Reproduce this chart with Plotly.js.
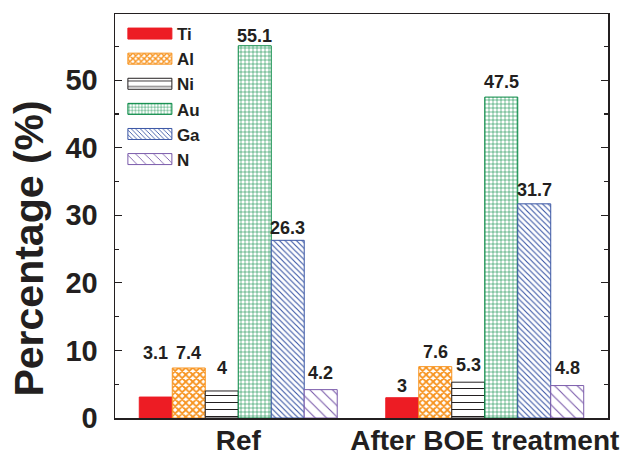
<!DOCTYPE html>
<html>
<head>
<meta charset="utf-8">
<script src="https://cdn.plot.ly/plotly-3.0.1.min.js"></script>
<style>
  html, body { margin: 0; padding: 0; background: #fff; }
  #chart { width: 639px; height: 457px; }
</style>
</head>
<body>
<div id="chart"></div>
<script>
// Sample groups and element composition (%)
const groups = ['Ref', 'After BOE treatment'];
const elements = ['Ti', 'Al', 'Ni', 'Au', 'Ga', 'N'];
const ti = [3.1, 3];
const al = [7.4, 7.6];
const ni = [4, 5.3];
const au = [55.1, 47.5];
const ga = [26.3, 31.7];
const nn = [4.2, 4.8];
const yTicks = [0, 10, 20, 30, 40, 50];
const yTitle = 'Percentage (%)';

const series = [ti, al, ni, au, ga, nn];

// Visual style per element
const styles = [
  { color: '#ed1c24', shape: '',   size: 8, solidity: 0.3 },
  { color: '#f7931e', shape: 'x',  size: 5, solidity: 0.6 },
  { color: '#231f20', shape: '-',  size: 7, solidity: 0.15 },
  { color: '#00853f', shape: '+',  size: 4, solidity: 0.25 },
  { color: '#3a56a5', shape: '\\', size: 4, solidity: 0.28 },
  { color: '#7b5bab', shape: '\\', size: 8, solidity: 0.14 }
];

// Extra pixel lift of each value label above its bar, per group
const labelLift = [
  [44, 15, 23, 10, 12, 17],
  [12, 15, 17, 15, 14, 18]
];

const groupX = groups.map((g, i) => i);
const bargap = 0.197;
const barW = (1 - bargap) / elements.length;
const font = 'Liberation Sans, Arial, sans-serif';
const ink = '#231f20';

const traces = elements.map((name, k) => {
  const s = styles[k];
  const m = {
    color: s.shape ? '#ffffff' : s.color,
    line: { color: s.color, width: 1 }
  };
  if (s.shape) {
    m.pattern = { shape: s.shape, fgcolor: s.color, fgopacity: 1, bgcolor: '#ffffff',
                  size: s.size, solidity: s.solidity, fillmode: 'overlay' };
  }
  return {
    type: 'bar',
    name: name,
    x: groupX,
    y: series[k],
    marker: m,
    hoverinfo: 'y+name'
  };
});

const annotations = [];
groups.forEach((g, gi) => {
  elements.forEach((name, k) => {
    annotations.push({
      x: gi + (k - (elements.length - 1) / 2) * barW,
      y: series[k][gi],
      xref: 'x', yref: 'y',
      text: String(series[k][gi]),
      showarrow: false,
      yanchor: 'middle',
      yshift: labelLift[gi][k],
      font: { family: font, size: 18, color: ink, weight: 'bold' }
    });
  });
});

// vertical axis title, set a little below the plot's middle
annotations.push({
  text: yTitle,
  xref: 'paper', yref: 'paper',
  x: -0.174, y: 0.42,
  xanchor: 'center', yanchor: 'middle',
  textangle: -90,
  showarrow: false,
  font: { family: font, size: 41, color: ink, weight: 'bold' }
});

const layout = {
  width: 639,
  height: 457,
  margin: { l: 115, r: 31, t: 14, b: 39 },
  paper_bgcolor: '#ffffff',
  plot_bgcolor: '#ffffff',
  barmode: 'group',
  bargap: bargap,
  bargroupgap: 0,
  showlegend: true,
  legend: {
    x: 0.016, y: 0.995, xanchor: 'left', yanchor: 'top',
    bgcolor: 'rgba(0,0,0,0)',
    font: { family: font, size: 17, color: ink, weight: 'bold' },
    tracegroupgap: 0,
    itemwidth: 44
  },
  xaxis: {
    range: [-0.5, 1.5],
    tickvals: groupX,
    ticktext: groups,
    ticks: '',
    showline: true, linecolor: ink, linewidth: 1.5,
    mirror: true,
    showgrid: false, zeroline: false,
    ticklabelstandoff: -3,
    tickfont: { family: font, size: 28, color: ink, weight: 'bold' }
  },
  yaxis: {
    range: [0, 59.8],
    tickvals: yTicks,
    ticks: 'inside', ticklen: 7, tickwidth: 1.2, tickcolor: ink,
    minor: { dtick: 5, tick0: 0, ticks: 'inside', ticklen: 4, tickcolor: ink, showgrid: false },
    showline: true, linecolor: ink, linewidth: 1.5,
    mirror: 'allticks',
    showgrid: false, zeroline: false,
    ticklabelstandoff: 10,
    tickfont: { family: font, size: 29, color: ink, weight: 'bold' }
  },
  annotations: annotations
};

Plotly.newPlot('chart', traces, layout, { displayModeBar: false, staticPlot: true }).then(gd => {
  // widen the legend swatches into flat bars
  gd.querySelectorAll('.legend .legendpoints path').forEach(p => {
    p.setAttribute('d', 'M-22,5.5H22V-5.5H-22Z');
  });
});
</script>
</body>
</html>
